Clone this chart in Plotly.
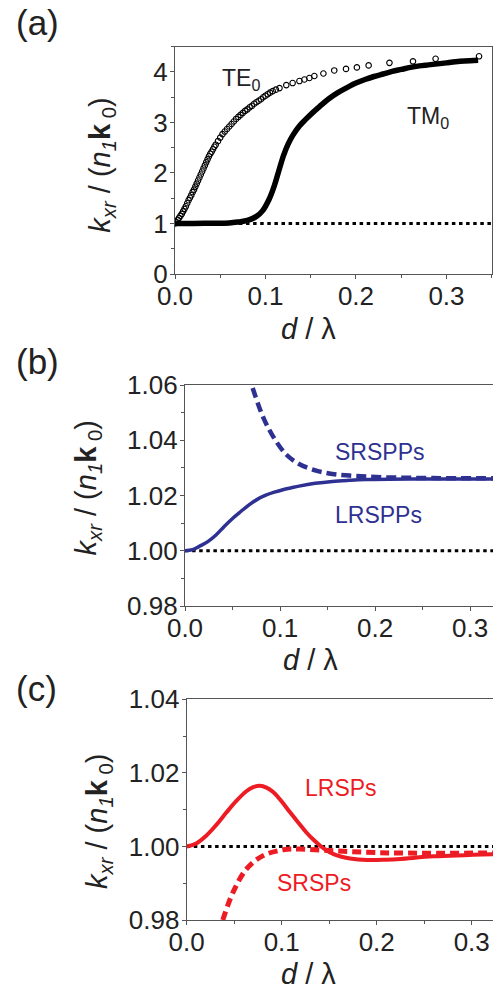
import plotly.graph_objects as go

# ---------------- data ----------------
# Panel (a)
te0_d = [0.000, 0.0015, 0.003, 0.0045, 0.006, 0.0075, 0.009, 0.0105, 0.012, 0.0135,
         0.015, 0.0165, 0.018, 0.0195, 0.021, 0.0225, 0.024, 0.0255, 0.027, 0.0285,
         0.030, 0.0315, 0.033, 0.0345, 0.036, 0.0375, 0.039, 0.0405, 0.042, 0.0435,
         0.045, 0.0475, 0.050, 0.0525, 0.055, 0.0575, 0.060, 0.0625, 0.065, 0.0675,
         0.070, 0.0725, 0.075, 0.0775, 0.080, 0.0825, 0.085, 0.0875, 0.090, 0.0925,
         0.095, 0.0975, 0.100, 0.1025, 0.105, 0.108, 0.1115,
         0.1155, 0.123, 0.130, 0.1375, 0.143, 0.1485, 0.154, 0.164, 0.176, 0.189,
         0.201, 0.214, 0.237, 0.263, 0.288, 0.336]
te0_k = [1.00, 1.03, 1.07, 1.11, 1.15, 1.19, 1.24, 1.29, 1.34, 1.40,
         1.46, 1.51, 1.56, 1.62, 1.67, 1.73, 1.79, 1.85, 1.91, 1.97,
         2.03, 2.09, 2.15, 2.21, 2.27, 2.33, 2.38, 2.42, 2.47, 2.52,
         2.56, 2.63, 2.70, 2.77, 2.82, 2.87, 2.92, 2.97, 3.02, 3.07,
         3.11, 3.15, 3.19, 3.23, 3.26, 3.30, 3.33, 3.37, 3.40, 3.43,
         3.46, 3.50, 3.53, 3.56, 3.59, 3.62, 3.65,
         3.68, 3.74, 3.78, 3.82, 3.85, 3.88, 3.92, 3.97, 4.03, 4.06,
         4.09, 4.13, 4.18, 4.21, 4.26, 4.31]

tm0_d = [0.000, 0.020, 0.040, 0.060, 0.070, 0.080, 0.090, 0.0967, 0.104, 0.110,
         0.115, 0.120, 0.125, 0.130, 0.1375, 0.145, 0.150, 0.160, 0.170, 0.180,
         0.190, 0.200, 0.210, 0.220, 0.230, 0.240, 0.250, 0.260, 0.270, 0.280,
         0.290, 0.300, 0.310, 0.320, 0.335]
tm0_k = [1.00, 1.00, 1.005, 1.01, 1.03, 1.06, 1.14, 1.25, 1.48, 1.76,
         2.06, 2.35, 2.57, 2.74, 2.93, 3.07, 3.16, 3.32, 3.47, 3.59,
         3.69, 3.78, 3.85, 3.91, 3.96, 4.01, 4.05, 4.09, 4.12, 4.14,
         4.16, 4.18, 4.20, 4.215, 4.23]

# Panel (b)
lrspp_d = [0.000, 0.008, 0.015, 0.024, 0.0326, 0.041, 0.050, 0.059, 0.0677, 0.076,
           0.085, 0.094, 0.103, 0.112, 0.120, 0.137, 0.155, 0.172, 0.190, 0.240, 0.324]
lrspp_k = [1.0000, 1.0004, 1.0016, 1.0033, 1.0057, 1.0087, 1.0117, 1.0143, 1.0167, 1.0186,
           1.0201, 1.0212, 1.0221, 1.0228, 1.0234, 1.0244, 1.0251, 1.0255, 1.0258, 1.0260, 1.0260]
srspp_d = [0.0712, 0.0818, 0.0923, 0.106, 0.120, 0.138, 0.155, 0.173, 0.208, 0.260, 0.324]
srspp_k = [1.0589, 1.0487, 1.0416, 1.0350, 1.0314, 1.0290, 1.0278, 1.0272, 1.0266, 1.0263, 1.0262]

# Panel (c)
lrsp_d = [0.000, 0.010, 0.0205, 0.031, 0.0417, 0.052, 0.0628, 0.070, 0.077, 0.084,
          0.091, 0.100, 0.109, 0.118, 0.126, 0.1335, 0.1405, 0.1475, 0.1546, 0.163,
          0.172, 0.190, 0.210, 0.225, 0.260, 0.323]
lrsp_k = [1.0000, 1.0008, 1.0029, 1.0058, 1.0092, 1.0123, 1.0150, 1.0161, 1.0165, 1.0160,
          1.0148, 1.0122, 1.0092, 1.0063, 1.0038, 1.0018, 1.0002, 0.9989, 0.9979, 0.9972,
          0.9967, 0.9963, 0.9964, 0.9966, 0.9973, 0.9979]
srsp_d = [0.038, 0.0487, 0.0628, 0.0805, 0.1017, 0.119, 0.1546, 0.190, 0.225, 0.323]
srsp_k = [0.9800, 0.9875, 0.9938, 0.9975, 0.9991, 0.9993, 0.9988, 0.9984, 0.9982, 0.9982]

ref_level = 1.0

# ---------------- styling ----------------
W, H = 493, 993
FONT = "Liberation Sans, Arial, Helvetica, sans-serif"
AX = "#555555"
BLUE = "#2E3192"
RED = "#ED1C24"


def px_x(p):
    return p / W


def px_y(p):
    return 1 - p / H


fig = go.Figure()

# panel a
fig.add_trace(go.Scatter(x=[0, 0.35], y=[ref_level, ref_level], mode="lines",
                         line=dict(color="black", width=3, dash="3.5px,3.6px"),
                         xaxis="x", yaxis="y", showlegend=False))
fig.add_trace(go.Scatter(x=tm0_d, y=tm0_k, mode="lines", line_shape="spline",
                         line=dict(color="black", width=5.5),
                         xaxis="x", yaxis="y", showlegend=False))
fig.add_trace(go.Scatter(x=te0_d, y=te0_k, mode="markers",
                         marker=dict(symbol="circle-open", size=5.5, color="black",
                                     line=dict(width=1.1, color="black")),
                         xaxis="x", yaxis="y", showlegend=False))

# panel b
fig.add_trace(go.Scatter(x=[0, 0.324], y=[ref_level, ref_level], mode="lines",
                         line=dict(color="black", width=3, dash="3.5px,3.6px"),
                         xaxis="x2", yaxis="y2", showlegend=False))
fig.add_trace(go.Scatter(x=lrspp_d, y=lrspp_k, mode="lines", line_shape="spline",
                         line=dict(color=BLUE, width=3.5),
                         xaxis="x2", yaxis="y2", showlegend=False))
fig.add_trace(go.Scatter(x=srspp_d, y=srspp_k, mode="lines", line_shape="spline",
                         line=dict(color=BLUE, width=4.5, dash="10px,5px"),
                         xaxis="x2", yaxis="y2", showlegend=False))

# panel c
fig.add_trace(go.Scatter(x=[0, 0.3224], y=[ref_level, ref_level], mode="lines",
                         line=dict(color="black", width=3, dash="3.5px,3.6px"),
                         xaxis="x3", yaxis="y3", showlegend=False))
fig.add_trace(go.Scatter(x=lrsp_d, y=lrsp_k, mode="lines", line_shape="spline",
                         line=dict(color=RED, width=4),
                         xaxis="x3", yaxis="y3", showlegend=False))
fig.add_trace(go.Scatter(x=srsp_d, y=srsp_k, mode="lines", line_shape="spline",
                         line=dict(color=RED, width=5, dash="9px,5px"),
                         xaxis="x3", yaxis="y3", showlegend=False))


def xax(domain, rng, anchor):
    return dict(domain=domain, range=rng, anchor=anchor, showgrid=False, zeroline=False,
                automargin=False,
                showline=True, linecolor=AX, linewidth=1.3, mirror=True,
                ticks="outside", ticklen=4, tickwidth=1, tickcolor=AX,
                ticklabelstandoff=-5,
                dtick=0.1, tick0=0, tickformat=".1f",
                minor=dict(ticks="outside", ticklen=3, dtick=0.05, tickcolor=AX),
                tickfont=dict(family=FONT, size=26, color="#222222"))


def yax(domain, rng, anchor, dtick, mdtick, fmt, mirror):
    return dict(domain=domain, range=rng, anchor=anchor, showgrid=False, zeroline=False,
                automargin=False,
                showline=True, linecolor=AX, linewidth=1.3, mirror=mirror,
                ticks="outside", ticklen=4, tickwidth=1, tickcolor=AX,
                ticklabelstandoff=-3,
                dtick=dtick, tick0=0, tickformat=fmt,
                minor=dict(ticks="outside", ticklen=3, dtick=mdtick, tickcolor=AX),
                tickfont=dict(family=FONT, size=26, color="#222222"))


fig.update_layout(
    template="none",
    width=W, height=H, autosize=False,
    margin=dict(l=0, r=0, t=0, b=0, pad=0),
    paper_bgcolor="white", plot_bgcolor="white",
    font=dict(family=FONT, color="#222222"),
    xaxis=xax([px_x(175), px_x(491.7)], [0, 0.35], "y"),
    yaxis=yax([px_y(274), px_y(46.7)], [0, 4.5], "x", 1, 0.5, "d", True),
    xaxis2=xax([px_x(185), 1.0], [0, 0.324], "y2"),
    yaxis2=yax([px_y(606), px_y(385)], [0.98, 1.06], "x2", 0.02, 0.01, ".2f", False),
    xaxis3=xax([px_x(186.7), 1.0], [0, 0.3224], "y3"),
    yaxis3=yax([px_y(920), px_y(699.3)], [0.98, 1.04], "x3", 0.02, 0.01, ".2f", False),
)

ytitle = "<i>k</i><sub><i>xr</i></sub> / (<i>n</i><sub><i>1</i></sub><b>k</b><sub> 0</sub>)"
xtitle = "<i>d</i> / λ"

annos = []
# panel labels
for lab, cx, cy in [("(a)", 37, 23), ("(b)", 37, 362), ("(c)", 36, 688)]:
    annos.append(dict(text=lab, x=px_x(cx), y=px_y(cy), xref="paper", yref="paper",
                      showarrow=False, xanchor="center", yanchor="middle",
                      font=dict(family=FONT, size=35, color="#222222")))
# y titles
for cx, cy in [(101.7, 165), (87.5, 488), (99, 822)]:
    annos.append(dict(text=ytitle, x=px_x(cx), y=px_y(cy), xref="paper", yref="paper",
                      showarrow=False, textangle=-90, xanchor="center", yanchor="middle",
                      font=dict(family=FONT, size=29, color="#222222")))
# x titles
for cx, cy in [(308, 329), (310, 660), (308, 974)]:
    annos.append(dict(text=xtitle, x=px_x(cx), y=px_y(cy), xref="paper", yref="paper",
                      showarrow=False, xanchor="center", yanchor="middle",
                      font=dict(family=FONT, size=29, color="#222222")))
# curve labels
for txt, lx, cy, col in [("TE<sub>0</sub>", 220, 79, "#222222"),
                         ("TM<sub>0</sub>", 405, 117, "#222222"),
                         ("SRSPPs", 333, 452, BLUE),
                         ("LRSPPs", 333, 515, BLUE),
                         ("LRSPs", 303, 788, RED),
                         ("SRSPs", 275, 883, RED)]:
    annos.append(dict(text=txt, x=px_x(lx), y=px_y(cy), xref="paper", yref="paper",
                      showarrow=False, xanchor="left", yanchor="middle",
                      font=dict(family=FONT, size=23, color=col)))

fig.update_layout(annotations=annos)

fig.write_html("out.html", config={"displayModeBar": False},
               post_script="document.body.style.margin='0';document.body.style.overflow='hidden';")
